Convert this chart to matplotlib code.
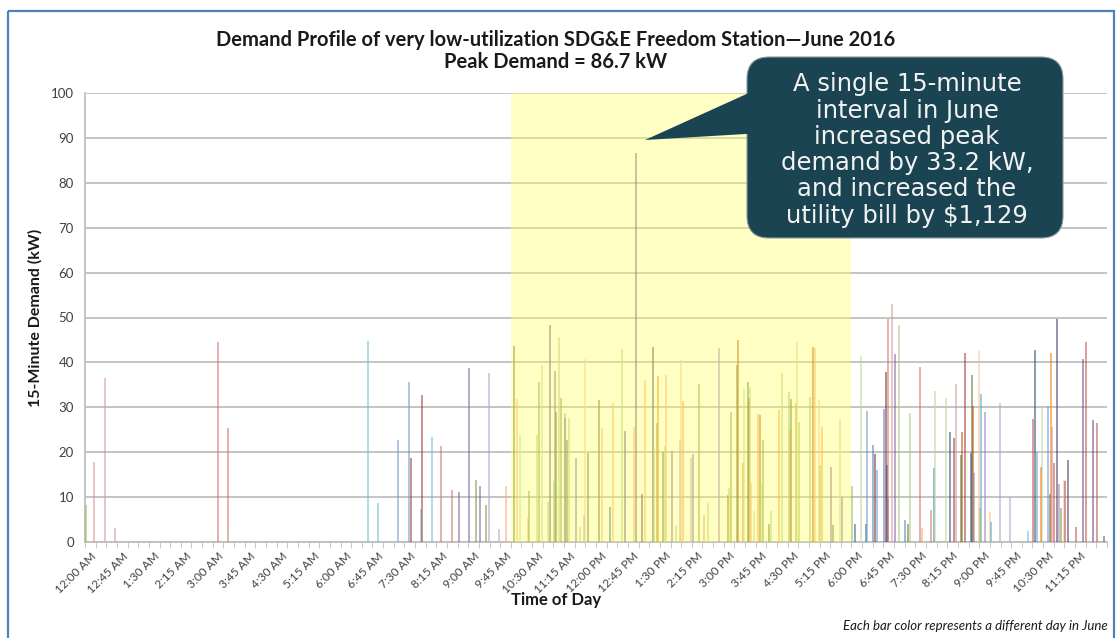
# Demand profile of a low-utilization charging station, June 2016

import matplotlib
matplotlib.use("Agg")
import matplotlib.pyplot as plt
from matplotlib.patches import FancyBboxPatch, Polygon, Rectangle
from matplotlib.colors import to_rgba

plt.rcParams["font.family"] = ["Lato", "DejaVu Sans"]

# 15-minute intervals: 96 per day, labelled every 45 minutes
n_slots = 96
label_every = 3
tick_labels = ["12:00 AM", "12:45 AM", "1:30 AM", "2:15 AM", "3:00 AM", "3:45 AM",
               "4:30 AM", "5:15 AM", "6:00 AM", "6:45 AM", "7:30 AM", "8:15 AM",
               "9:00 AM", "9:45 AM", "10:30 AM", "11:15 AM", "12:00 PM", "12:45 PM",
               "1:30 PM", "2:15 PM", "3:00 PM", "3:45 PM", "4:30 PM", "5:15 PM",
               "6:00 PM", "6:45 PM", "7:30 PM", "8:15 PM", "9:00 PM", "9:45 PM",
               "10:30 PM", "11:15 PM"]

# visible demand spikes: interval index, day of June, kW
spike_slot = [0, 0, 1, 2, 12, 13, 26, 27, 29, 30, 30, 31, 31, 32, 33, 34, 35, 36, 36, 37, 37, 37, 38, 39,
              40, 40, 40, 41, 41, 42, 42, 42, 43, 43, 44, 44, 44, 44, 44, 45, 45, 45, 45, 46, 46, 46, 46,
              47, 48, 48, 49, 49, 50, 50, 51, 51, 52, 52, 53, 53, 53, 53, 54, 54, 54, 55, 55, 55, 55,
              56, 56, 57, 57, 58, 58, 59,
              60, 60, 60, 61, 61, 61, 61, 62, 62, 62, 62, 62, 63, 63, 63, 63, 64, 64, 65, 65, 66, 66,
              66, 66, 66, 67, 68, 68, 68, 68, 69, 69, 70, 70, 70, 71,
              72, 72, 72, 73, 73, 74, 74, 74, 75, 75, 75, 75, 75, 75, 76, 76, 77, 77, 77, 78, 78, 79,
              79, 79, 80, 81, 81, 81, 82, 82, 82, 83, 83, 83, 83, 83, 84, 84, 84, 84, 85, 85, 86, 88,
              89, 89, 89, 89, 89, 90, 90, 90, 90, 91, 91, 91, 91, 91, 92, 92, 93, 93, 94, 94, 95, 95]
spike_day = [3, 26, 26, 26, 14, 14, 17, 17, 13, 13, 20, 17, 20, 17, 14, 14, 4, 4, 21, 4, 21, 28, 28, 18,
             9, 18, 27, 18, 21, 21, 27, 15, 15, 22, 4, 15, 9, 21, 3, 3, 4, 15, 9, 4, 15, 30, 28,
             9, 9, 18, 11, 18, 15, 22, 18, 22, 10, 18, 10, 15, 21, 24, 9, 15, 18, 4, 15, 30, 28,
             6, 28, 4, 21, 6, 15, 16,
             12, 15, 21, 9, 12, 24, 27, 9, 12, 15, 18, 27, 6, 12, 15, 21, 9, 15, 6, 15, 3, 6,
             9, 24, 27, 3, 3, 12, 18, 30, 6, 3, 4, 9, 27, 4,
             3, 11, 27, 11, 13, 1, 8, 13, 1, 8, 13, 10, 14, 26, 4, 15, 1, 15, 9, 14, 18, 14,
             23, 27, 27, 7, 20, 26, 12, 9, 20, 9, 7, 12, 16, 30, 5, 3, 16, 30, 5, 28, 28, 17,
             2, 7, 13, 27, 24, 13, 19, 24, 26, 2, 10, 16, 21, 30, 2, 10, 2, 22, 2, 22, 2, 22]
spike_kw = [8.2, 17.8, 36.6, 3.1, 44.6, 25.4, 44.8, 8.7, 22.7, 35.7, 18.7, 7.4, 32.7, 23.3, 21.3, 11.6,
            11.1, 38.8, 13.9, 12.5, 8.3, 37.6, 2.9, 12.4,
            43.6, 31.8, 23.9, 5.3, 11.3, 35.7, 39.4, 23.9, 9.0, 48.4, 38.1, 45.7, 29.0, 32.0, 13.5,
            28.7, 27.6, 27.6, 22.7, 18.7, 3.3, 40.7, 6.0,
            19.8, 31.6, 25.3, 7.9, 30.9, 43.0, 24.7, 25.7, 86.7, 10.7, 36.1, 43.5, 20.9, 26.4, 37.0,
            20.1, 21.3, 37.3, 20.3, 3.5, 40.5, 22.7, 31.4, 18.7, 19.6, 35.1, 6.1, 8.7, 43.1,
            10.5, 12.0, 29.0, 39.4, 45.0, 17.6, 34.0, 35.7, 32.0, 34.6, 13.1, 6.8, 28.5, 28.3, 13.1,
            22.7, 3.9, 7.0, 29.4, 37.6, 33.3, 25.0, 31.9, 30.9, 44.6, 26.8, 32.4, 43.5, 43.3, 31.6,
            25.7, 17.2, 16.8, 3.7, 27.4, 10.1,
            12.4, 3.9, 41.4, 3.9, 29.2, 21.5, 19.6, 16.1, 29.6, 37.9, 9.8, 17.2, 49.6, 52.9, 41.8,
            48.3, 5.0, 28.7, 3.9, 39.0, 3.1, 7.2, 16.4, 33.6, 32.0, 24.6, 23.1, 35.3, 24.4, 19.4,
            42.0, 37.3, 19.8, 30.4, 15.3, 42.5, 32.9, 7.6, 28.9, 6.7, 4.4, 31.0, 10.1, 2.4,
            27.4, 42.7, 20.0, 30.1, 16.6, 30.4, 10.7, 42.0, 25.7, 17.6, 49.6, 12.9, 7.6, 13.9,
            13.5, 18.3, 3.3, 40.7, 44.6, 27.2, 26.6, 1.3]

# on-peak window shaded in the original (interval indices)
peak_start, peak_end = 40, 72

# one colour per day (office-style 30 series palette)
day_palette = ["#4F81BD", "#C0504D", "#9BBB59", "#8064A2", "#4BACC6", "#F79646",
               "#2C4D75", "#772C2A", "#5F7530", "#4D3B62", "#276A7C", "#B65708",
               "#729ACA", "#CD7371", "#AFC97A", "#9983B5", "#6FBDD1", "#F9AB6B",
               "#3A679C", "#9F3B38", "#7E9D40", "#664F83", "#358EA6", "#F07F09",
               "#95B3D7", "#D99694", "#C3D69B", "#B3A2C7", "#93CDDD", "#FAC090"]

W, H = 1117, 638
fig = plt.figure(figsize=(W / 100, H / 100), dpi=100)
ax = fig.add_axes([85 / W, 1 - 542 / H, (1107 - 85) / W, (542 - 93) / H])

# bars sit side by side inside each interval, ordered by day
xs = [s + (d - 0.5) / 30 for s, d in zip(spike_slot, spike_day)]
cols = [to_rgba(day_palette[d - 1], 0.6) for d in spike_day]
ax.vlines(xs, 0, spike_kw, colors=cols, linewidth=1.3, zorder=3)

ax.axvspan(peak_start, peak_end, ymin=0, ymax=1, color="#FFFF66", alpha=0.38, lw=0, zorder=4)

ax.set_xlim(0, n_slots)
ax.set_ylim(0, 100)
ax.set_yticks(range(0, 101, 10))
ax.yaxis.grid(True, color="#BFBFBF", linewidth=1.3, zorder=1)
ax.set_axisbelow(True)
ax.tick_params(axis="y", length=0, labelsize=9.5, labelcolor="#404040", pad=8)

ax.set_xticks([k + 0.5 for k in range(0, n_slots, label_every)])
ax.set_xticklabels(tick_labels, rotation=45, ha="right", rotation_mode="anchor",
                   fontsize=8.5, color="#404040")
ax.set_xticks(range(n_slots + 1), minor=True)
ax.tick_params(axis="x", which="major", length=0, pad=6)
ax.tick_params(axis="x", which="minor", length=4, color="#BFBFBF")

for side in ["top", "right"]:
    ax.spines[side].set_visible(False)
ax.spines["left"].set_color("#BFBFBF")
ax.spines["bottom"].set_color("#BFBFBF")
ax.spines["left"].set_linewidth(1.3)
ax.spines["bottom"].set_linewidth(1.3)

# overlay in pixel coordinates for frame, titles and callout
ov = fig.add_axes([0, 0, 1, 1], zorder=5)
ov.set_xlim(0, W)
ov.set_ylim(H, 0)
ov.axis("off")
ov.patch.set_alpha(0)

ov.add_patch(Rectangle((8, 11), 1106, 640, fill=False, edgecolor="#4F81BD", linewidth=1.6))

ov.text(556, 40, "Demand Profile of very low-utilization SDG&E Freedom Station\u2014June 2016",
        ha="center", va="center", fontsize=14.5, fontweight="bold", color="#1A1A1A")
ov.text(556, 62, "Peak Demand = 86.7 kW", ha="center", va="center",
        fontsize=14.5, fontweight="bold", color="#1A1A1A")
ov.text(35, 318, "15-Minute Demand (kW)", rotation=90, ha="center", va="center",
        fontsize=11.5, fontweight="bold", color="#1A1A1A")
ov.text(556, 600, "Time of Day", ha="center", va="center",
        fontsize=12, fontweight="bold", color="#1A1A1A")
ov.text(1108, 626, "Each bar color represents a different day in June", ha="right", va="center",
        fontsize=9.5, style="italic", color="#1A1A1A")

callout = "#1B4452"
ov.add_patch(FancyBboxPatch((760, 70), 290, 155, boxstyle="round,pad=13,rounding_size=22",
                            facecolor=callout, edgecolor="#8A9BA0", linewidth=0.8))
ov.add_patch(Polygon([(645, 140), (762, 87), (762, 133)], closed=True,
                     facecolor=callout, edgecolor="none"))
ov.text(907, 150, "A single 15-minute\ninterval in June\nincreased peak\ndemand by 33.2 kW,\n"
        "and increased the\nutility bill by $1,129", ha="center", va="center",
        fontsize=17.5, color="#F2F2F2", linespacing=1.12, family="DejaVu Sans")

fig.savefig("out.png", dpi=100)
